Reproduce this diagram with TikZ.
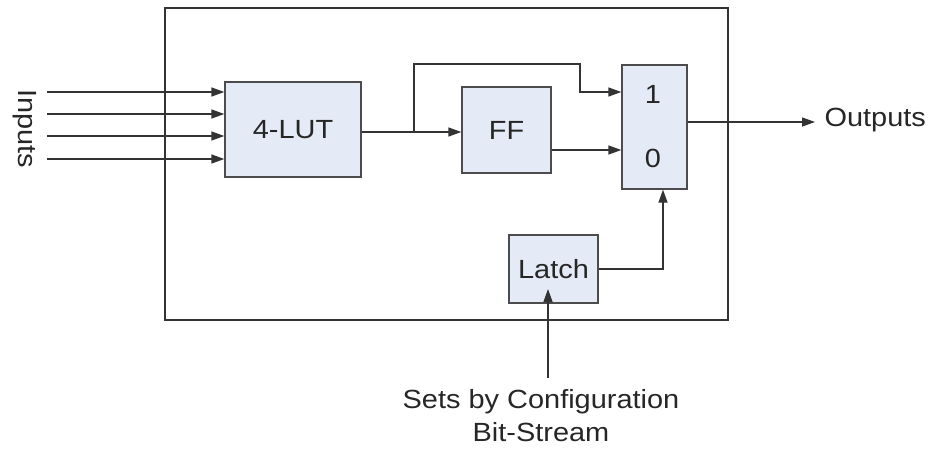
\documentclass[tikz,border=0pt]{standalone}
\usepackage{fontspec}
\setmainfont[FakeStretch=1.1]{Liberation Sans}
\usetikzlibrary{arrows.meta,calc}
\begin{document}
\begin{tikzpicture}[x=1pt,y=-1pt,
  every node/.style={font=\fontsize{26.3}{31}\selectfont, text=black!85},
  blk/.style={draw=black!70, line width=1.3pt, fill=boxblue, inner sep=0pt},
  wire/.style={draw=black!80, line width=1.3pt},
  arr/.style={wire, -{Triangle[length=13pt,width=9pt]}}]
\definecolor{boxblue}{HTML}{E4EAF6}
\useasboundingbox (0,0) rectangle (930,448);
\node[draw=black!80, line width=1.3pt, minimum width=563pt, minimum height=312pt, inner sep=0pt] (frame) at (446.5,164) {};
\node[blk, minimum width=136pt, minimum height=95pt] (lut) at (293,129.5) {4-LUT};
\node[blk, minimum width=89pt, minimum height=86pt] (ff) at (506.5,130) {FF};
\node[blk, minimum width=65pt, minimum height=124pt] (mux) at (654.5,127) {};
\node (one) at (653,94) {1};
\node (zero) at (653,158) {0};
\node[blk, minimum width=89pt, minimum height=68pt] (latch) at (553.5,269) {Latch};
\node[rotate=-90] (inputs) at (25,128.5) {Inputs};
\node[anchor=west] (outputs) at (821,120) {Outputs};
\node[align=center, font=\fontsize{26.3}{33}\selectfont] (cfgtext) at (541,416) {Sets by Configuration\\Bit-Stream};
\coordinate (in1) at (47,92);
\coordinate (in2) at (47,114);
\coordinate (in3) at (47,136);
\coordinate (in4) at (47,159);
\foreach \i in {1,...,4} \draw[arr] (in\i) -- (in\i -| lut.west);
\coordinate (lo) at (lut.east |- 0,132);
\coordinate (br) at (414,132);
\draw[wire] (lo) -- (br);
\draw[arr] (br) -- (br -| ff.west);
\coordinate (t1) at (414,64);
\coordinate (t2) at (580,64);
\coordinate (t3) at (580,92);
\draw[arr] (br) -- (t1) -- (t2) -- (t3) -- (t3 -| mux.west);
\coordinate (fo) at (ff.east |- 0,150);
\draw[arr] (fo) -- (fo -| mux.west);
\coordinate (mo) at (mux.east |- 0,122);
\coordinate (oend) at (815,122);
\draw[arr] (mo) -- (oend);
\coordinate (lc) at (663,269);
\draw[arr] (latch.east) -- (lc) -- (lc |- mux.south);
\coordinate (cfg) at (548,378);
\coordinate (cfgtip) at (548,289);
\draw[arr] (cfg) -- (cfgtip);
\end{tikzpicture}
\end{document}
